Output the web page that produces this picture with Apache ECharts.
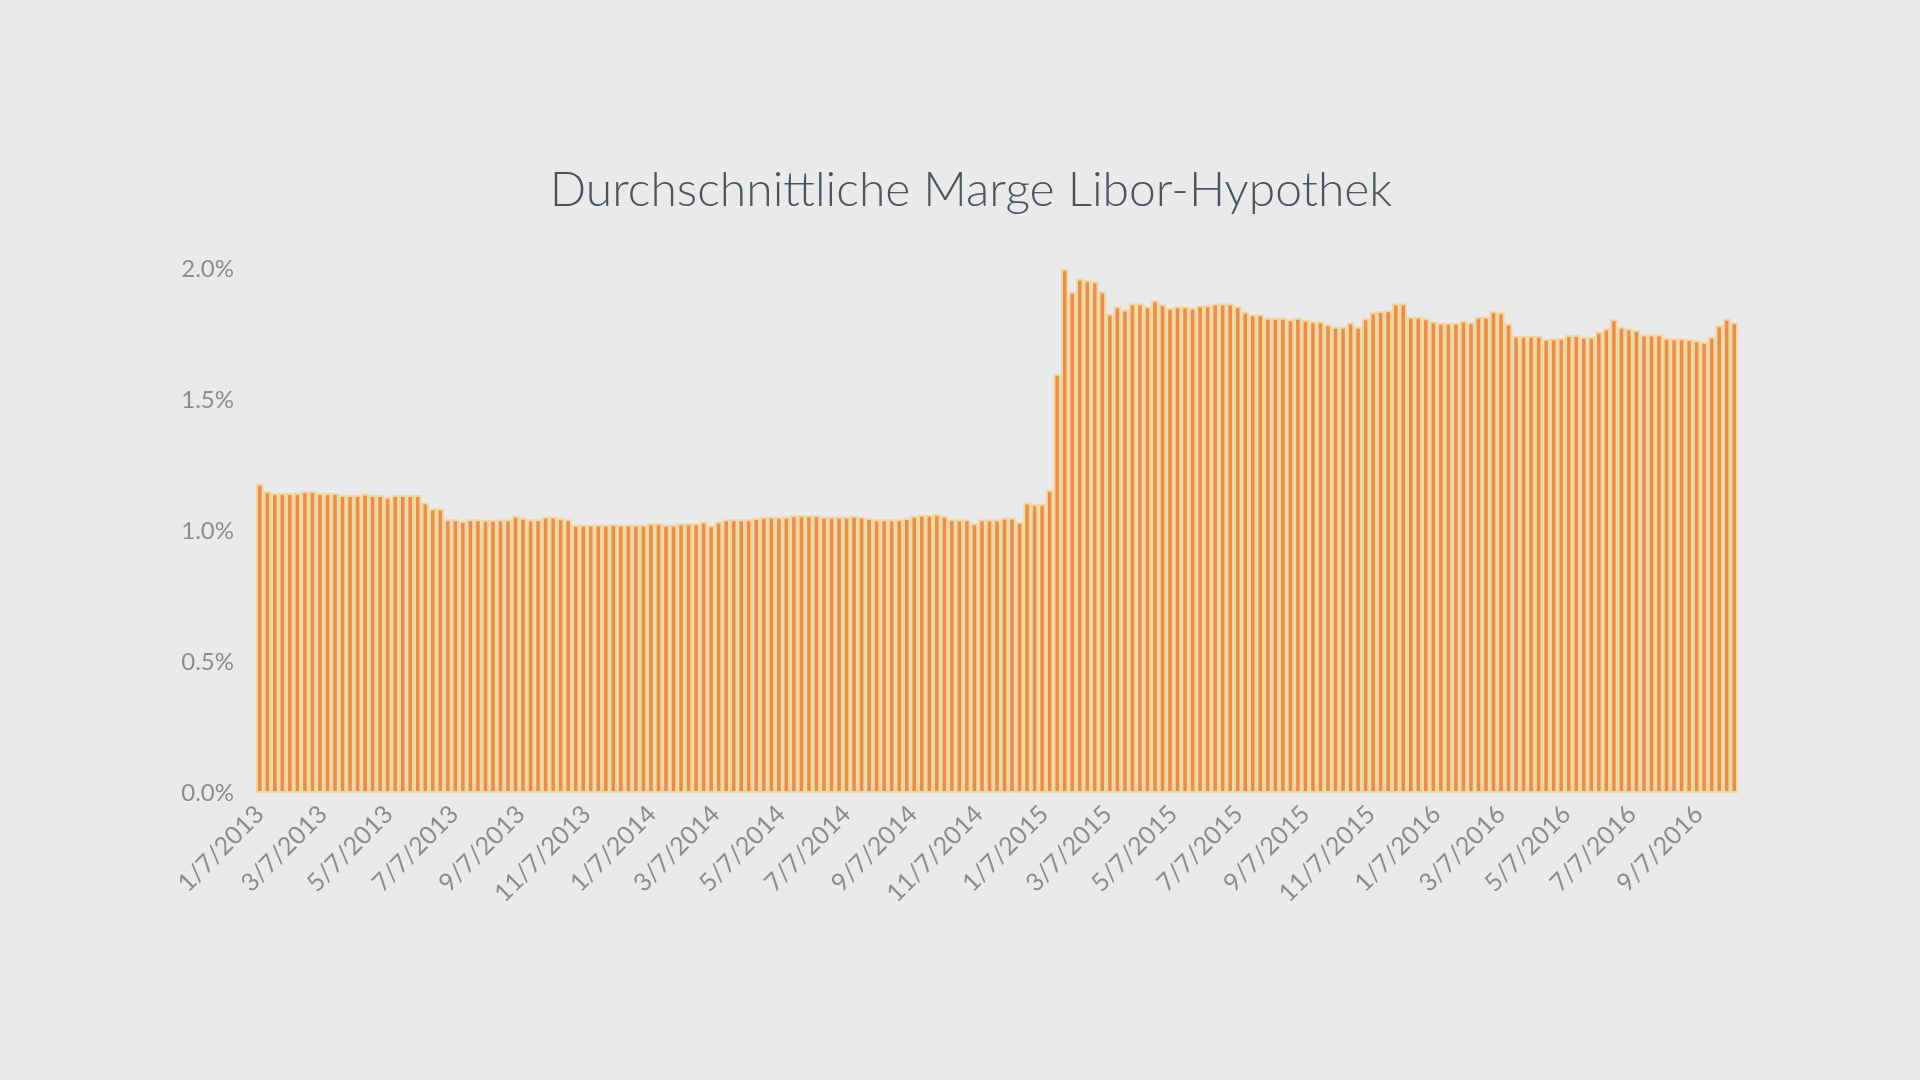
<!DOCTYPE html>
<html>
<head>
<meta charset="utf-8">
<script src="https://cdn.jsdelivr.net/npm/echarts@6/dist/echarts.min.js"></script>
<style>
  html, body { margin: 0; padding: 0; background: #e9eaec; }
  #chart { width: 1920px; height: 1080px; }
</style>
</head>
<body>
<div id="chart"></div>
<script>
// ---- data ----
const titleText = 'Durchschnittliche Marge Libor-Hypothek';
const firstWeek = '2013-01-07'; // weekly observations (Mondays) start here
const yTickLabels = ['0.0%', '0.5%', '1.0%', '1.5%', '2.0%'];
const xTickLabels = [
  '1/7/2013', '3/7/2013', '5/7/2013', '7/7/2013', '9/7/2013', '11/7/2013',
  '1/7/2014', '3/7/2014', '5/7/2014', '7/7/2014', '9/7/2014', '11/7/2014',
  '1/7/2015', '3/7/2015', '5/7/2015', '7/7/2015', '9/7/2015', '11/7/2015',
  '1/7/2016', '3/7/2016', '5/7/2016', '7/7/2016', '9/7/2016'
];
// average margin in percent, one value per week
const margin2013a = [1.18, 1.153, 1.145, 1.145, 1.145, 1.145, 1.153, 1.153, 1.145, 1.145,
  1.145, 1.137, 1.137, 1.137, 1.143, 1.137, 1.137, 1.130, 1.137, 1.137,
  1.137, 1.137, 1.109, 1.086, 1.086];
const margin2013b = [1.045, 1.045, 1.038, 1.045, 1.045, 1.042, 1.042, 1.044, 1.044, 1.058,
  1.051, 1.045, 1.045, 1.054, 1.054, 1.049, 1.045, 1.024, 1.024, 1.024,
  1.025, 1.024, 1.027, 1.024, 1.025, 1.024, 1.024, 1.03, 1.03, 1.024,
  1.024, 1.03, 1.03, 1.03, 1.036, 1.022, 1.036, 1.044, 1.045, 1.045,
  1.045, 1.05, 1.054, 1.054, 1.054, 1.054, 1.06, 1.06, 1.06, 1.06, 1.054];
const margin2014 = [1.054, 1.054, 1.054, 1.058, 1.054, 1.05, 1.045, 1.045, 1.045, 1.045,
  1.05, 1.058, 1.062, 1.062, 1.066, 1.058, 1.045, 1.044, 1.045, 1.03,
  1.044, 1.044, 1.044, 1.052, 1.052, 1.035, 1.109, 1.103, 1.103, 1.157];
const margin2015a = [1.60, 2.0, 1.913, 1.963, 1.957, 1.953, 1.915, 1.830, 1.858, 1.845,
  1.868, 1.868, 1.858, 1.881, 1.865, 1.852, 1.858, 1.858, 1.852];
const margin2015b = [1.862, 1.862, 1.868, 1.868, 1.868, 1.859, 1.837, 1.827, 1.827, 1.814,
  1.814, 1.814, 1.808, 1.814, 1.805, 1.801, 1.801, 1.789, 1.780, 1.780,
  1.797, 1.780, 1.812, 1.835, 1.840, 1.843, 1.868, 1.868, 1.818, 1.818,
  1.812, 1.801, 1.795, 1.795, 1.795, 1.803, 1.797, 1.818, 1.818, 1.839,
  1.835, 1.792, 1.745, 1.745, 1.745, 1.745, 1.733, 1.736, 1.738, 1.748];
const margin2016 = [1.748, 1.741, 1.741, 1.761, 1.773, 1.808, 1.780, 1.773, 1.767, 1.750,
  1.750, 1.750, 1.738, 1.736, 1.736, 1.733, 1.728, 1.722, 1.741, 1.785,
  1.810, 1.797];
const marginValues = [].concat(margin2013a, margin2013b, margin2014, margin2015a, margin2015b, margin2016);

// ---- categories ----
function fmt(d) {
  return (d.getUTCMonth() + 1) + '/' + d.getUTCDate() + '/' + d.getUTCFullYear();
}
const DAY = 86400000;
const start = Date.parse(firstWeek + 'T00:00:00Z');
const weekCats = marginValues.map((v, i) => fmt(new Date(start + i * 7 * DAY)));
// daily axis used for the date labels: aligned so each week band = 7 days
const dayCats = [];
for (let k = 0; k < weekCats.length * 7; k++) {
  dayCats.push(fmt(new Date(start + (k - 3) * DAY)));
}

const chart = echarts.init(document.getElementById('chart'));
chart.setOption({
  backgroundColor: '#e9eaec',
  animation: false,
  title: {
    text: titleText,
    left: 966,
    top: 162,
    textAlign: 'center',
    textStyle: { fontFamily: 'Lato', fontSize: 48, fontWeight: 300, color: '#505457' }
  },
  grid: { left: 256, right: 182, top: 269, bottom: 287, containLabel: false },
  xAxis: [
    {
      type: 'category',
      data: weekCats,
      axisLine: { show: false },
      axisTick: { show: false },
      axisLabel: { show: false }
    },
    {
      type: 'category',
      data: dayCats,
      position: 'bottom',
      axisLine: { show: false },
      axisTick: { show: false },
      splitLine: { show: false },
      axisLabel: {
        interval: (idx, val) => xTickLabels.indexOf(val) >= 0,
        rotate: 45,
        margin: 17,
        fontFamily: 'Lato',
        fontSize: 25,
        color: '#8a8c8e'
      }
    }
  ],
  yAxis: {
    type: 'value',
    min: 0,
    max: 2,
    interval: 0.5,
    axisLine: { show: false },
    axisTick: { show: false },
    splitLine: { show: false },
    axisLabel: {
      margin: 22,
      fontFamily: 'Lato',
      fontSize: 24,
      color: '#8a8c8e',
      formatter: (v) => yTickLabels[Math.round(v / 0.5)]
    }
  },
  series: [{
    type: 'bar',
    xAxisIndex: 0,
    data: marginValues,
    barCategoryGap: '0%',
    itemStyle: { color: '#e78f4c', borderColor: '#f5d6a0', borderWidth: 2 }
  }]
});
</script>
</body>
</html>
